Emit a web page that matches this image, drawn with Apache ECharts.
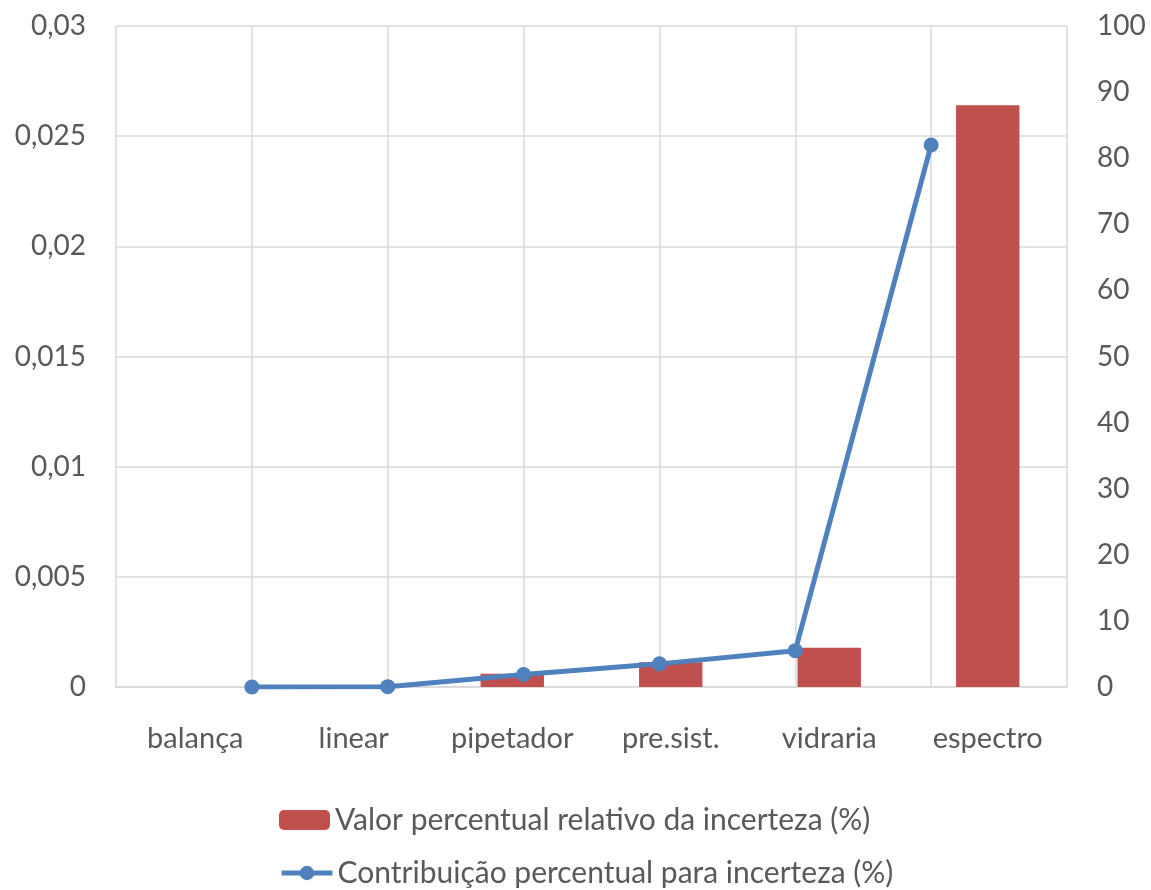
<!DOCTYPE html>
<html>
<head>
<meta charset="utf-8">
<script src="https://cdn.jsdelivr.net/npm/echarts@6/dist/echarts.min.js"></script>
<style>
  html, body { margin: 0; padding: 0; background: #ffffff; }
  #chart { width: 1151px; height: 890px; }
</style>
</head>
<body>
<div id="chart"></div>
<script>
// Categories and series values
const categories = ['balança', 'linear', 'pipetador', 'pre.sist.', 'vidraria', 'espectro'];
const barName = 'Valor percentual relativo da incerteza (%)';
const lineName = 'Contribuição percentual para incerteza (%)';
const barValues = [0, 0, 0.0006, 0.00112, 0.00178, 0.0264];
const lineValues = [0, 0.05, 1.9, 3.5, 5.5, 82.0];

const FONT = 'Lato';
const TEXT = '#595959';
const GRID = '#d9d9d9';
const AXIS_SIZE = 28;
const LABEL_SIZE = 29;
const LEGEND_SIZE = 30;

// Line points sit on the secondary horizontal axis (positions 1..6 of 0..7)
const linePoints = lineValues.map((v, i) => [i + 1, v]);

const commaFmt = v => String(+v.toFixed(4)).replace('.', ',');

const chart = echarts.init(document.getElementById('chart'));
chart.setOption({
  animation: false,
  textStyle: { fontFamily: FONT },
  grid: { left: 116, right: 84, top: 26, bottom: 203, containLabel: false },
  legend: [
    {
      data: [barName],
      left: 279, top: 805, padding: 0,
      itemWidth: 51, itemHeight: 20, itemGap: 6,
      textStyle: { fontFamily: FONT, fontSize: LEGEND_SIZE, color: TEXT }
    },
    {
      data: [lineName],
      left: 279, top: 858, padding: 0,
      itemWidth: 51, itemHeight: 18, itemGap: 6,
      lineStyle: { width: 5 },
      textStyle: { fontFamily: FONT, fontSize: LEGEND_SIZE, color: TEXT }
    }
  ],
  xAxis: [
    {
      type: 'category',
      data: categories,
      axisLine: { show: true, lineStyle: { color: GRID, width: 1.5 } },
      axisTick: { show: false },
      splitLine: { show: false },
      axisLabel: { interval: 0, fontFamily: FONT, fontSize: LABEL_SIZE, color: TEXT, margin: 37 }
    },
    {
      type: 'value',
      min: 0, max: 7, interval: 1,
      position: 'bottom',
      axisLine: { show: false },
      axisTick: { show: false },
      axisLabel: { show: false },
      splitLine: { show: true, lineStyle: { color: GRID, width: 1.5 } }
    }
  ],
  yAxis: [
    {
      type: 'value',
      min: 0, max: 0.03, interval: 0.005,
      axisLine: { show: false },
      axisTick: { show: false },
      axisLabel: { fontFamily: FONT, fontSize: AXIS_SIZE, color: TEXT, margin: 30, formatter: commaFmt },
      splitLine: { show: true, lineStyle: { color: GRID, width: 1.5 } }
    },
    {
      type: 'value',
      min: 0, max: 100, interval: 10,
      position: 'right',
      axisLine: { show: false },
      axisTick: { show: false },
      axisLabel: { fontFamily: FONT, fontSize: AXIS_SIZE, color: TEXT, margin: 30 },
      splitLine: { show: false }
    }
  ],
  series: [
    {
      name: barName,
      type: 'bar',
      xAxisIndex: 0, yAxisIndex: 0,
      data: barValues,
      barWidth: '40%',
      itemStyle: { color: '#C0504D' }
    },
    {
      name: lineName,
      type: 'line',
      xAxisIndex: 1, yAxisIndex: 1,
      data: linePoints,
      symbol: 'circle',
      symbolSize: 15,
      lineStyle: { color: '#4F81BD', width: 5 },
      itemStyle: { color: '#4F81BD' },
      z: 3
    }
  ]
});
</script>
</body>
</html>
